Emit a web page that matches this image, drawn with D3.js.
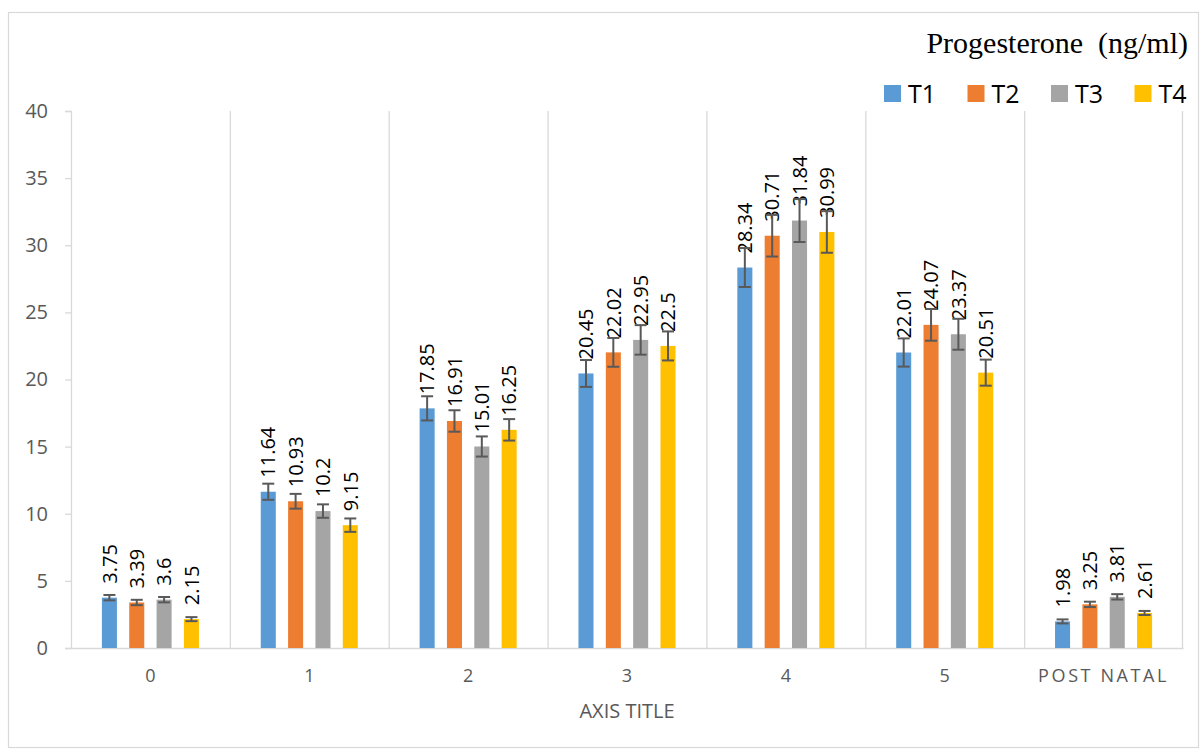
<!DOCTYPE html>
<html>
<head>
<meta charset="utf-8">
<script src="https://cdn.jsdelivr.net/npm/d3@7"></script>
<style>
  body { margin: 0; background: #fff; }
  svg { display: block; }
</style>
</head>
<body>
<div class="canvas"></div>
<script>
const categories = ['0', '1', '2', '3', '4', '5', 'POST NATAL'];
const seriesNames = ['T1', 'T2', 'T3', 'T4'];
const t1 = [3.75, 11.64, 17.85, 20.45, 28.34, 22.01, 1.98];
const t2 = [3.39, 10.93, 16.91, 22.02, 30.71, 24.07, 3.25];
const t3 = [3.6, 10.2, 15.01, 22.95, 31.84, 23.37, 3.81];
const t4 = [2.15, 9.15, 16.25, 22.5, 30.99, 20.51, 2.61];
const t1Err = [0.2, 0.6, 0.9, 1.0, 1.45, 1.05, 0.15];
const t2Err = [0.2, 0.55, 0.8, 1.07, 1.55, 1.18, 0.2];
const t3Err = [0.2, 0.5, 0.75, 1.1, 1.6, 1.15, 0.2];
const t4Err = [0.15, 0.5, 0.8, 1.08, 1.55, 0.97, 0.15];
const yTicks = [0, 5, 10, 15, 20, 25, 30, 35, 40];
const colors = ['#5B9BD5', '#ED7D31', '#A5A5A5', '#FFC000'];

const values = [t1, t2, t3, t4];
const errors = [t1Err, t2Err, t3Err, t4Err];

const dims = { width: 1201, height: 751 };
const plot = { left: 71, right: 1183, top: 111, bottom: 648 };
const sans = '"Open Sans", Lato, sans-serif';

const svg = d3.select('.canvas')
  .append('svg')
  .attr('width', dims.width)
  .attr('height', dims.height);

// chart border
svg.append('rect')
  .attr('x', 8.5).attr('y', 12.5)
  .attr('width', 1190).attr('height', 735)
  .attr('fill', '#fff')
  .attr('stroke', '#d9d9d9')
  .attr('stroke-width', 1.2);

const x = d3.scaleBand()
  .domain(categories)
  .range([plot.left, plot.right]);

const xInner = d3.scaleBand()
  .domain(seriesNames)
  .range([0, x.bandwidth()])
  .paddingInner(0.45)
  .paddingOuter(1.13);

const y = d3.scaleLinear()
  .domain([0, 40])
  .range([plot.bottom, plot.top]);

// vertical gridlines between categories
svg.append('g')
  .selectAll('line')
  .data(categories.slice(1))
  .enter().append('line')
  .attr('x1', d => x(d) + 0.5)
  .attr('x2', d => x(d) + 0.5)
  .attr('y1', plot.top)
  .attr('y2', plot.bottom)
  .attr('stroke', '#d9d9d9')
  .attr('stroke-width', 1.3);

svg.append('line')
  .attr('x1', plot.right - 0.5).attr('x2', plot.right - 0.5)
  .attr('y1', plot.top).attr('y2', plot.bottom)
  .attr('stroke', '#d9d9d9').attr('stroke-width', 1.3);

// y axis
const yAxis = svg.append('g')
  .attr('transform', `translate(${plot.left}, 0)`)
  .call(d3.axisLeft(y).tickValues(yTicks).tickSize(6).tickPadding(17));

yAxis.select('.domain').attr('stroke', '#d9d9d9').attr('stroke-width', 1.3);
yAxis.selectAll('.tick line').attr('stroke', '#d9d9d9').attr('stroke-width', 1.3);
yAxis.selectAll('.tick text')
  .attr('fill', '#595959')
  .style('font-family', sans)
  .style('font-size', '20px');

// x axis
const xAxis = svg.append('g')
  .attr('transform', `translate(0, ${plot.bottom})`)
  .call(d3.axisBottom(x).tickSize(0).tickPadding(21));

xAxis.select('.domain').attr('stroke', '#d9d9d9').attr('stroke-width', 1.3);
xAxis.selectAll('.tick text')
  .attr('fill', '#595959')
  .style('font-family', sans)
  .style('font-size', '18px')
  .style('letter-spacing', d => d === 'POST NATAL' ? '2.6px' : '0px');

svg.append('text')
  .attr('x', (plot.left + plot.right) / 2)
  .attr('y', 718)
  .attr('text-anchor', 'middle')
  .attr('fill', '#595959')
  .style('font-family', sans)
  .style('font-size', '20px')
  .text('AXIS TITLE');

// bars
const rows = [];
values.forEach((vals, s) => {
  vals.forEach((v, i) => {
    rows.push({ cat: categories[i], series: seriesNames[s], s, value: v, err: errors[s][i] });
  });
});

const groups = svg.append('g');

groups.selectAll('.bar')
  .data(rows)
  .enter().append('rect')
  .attr('class', 'bar')
  .attr('x', d => x(d.cat) + xInner(d.series))
  .attr('y', d => y(d.value))
  .attr('width', xInner.bandwidth())
  .attr('height', d => y(0) - y(d.value))
  .attr('fill', d => colors[d.s]);

// data labels
groups.selectAll('.label')
  .data(rows)
  .enter().append('text')
  .attr('class', 'label')
  .attr('transform', d => {
    const cx = x(d.cat) + xInner(d.series) + xInner.bandwidth() / 2;
    return `translate(${cx}, ${y(d.value) - 14}) rotate(-90)`;
  })
  .attr('dy', '0.36em')
  .attr('fill', '#000')
  .style('font-family', sans)
  .style('font-size', '20px')
  .text(d => d.value);

// error bars
const errG = groups.selectAll('.err')
  .data(rows)
  .enter().append('g')
  .attr('class', 'err')
  .attr('transform', d => `translate(${x(d.cat) + xInner(d.series) + xInner.bandwidth() / 2}, 0)`)
  .attr('stroke', '#595959')
  .attr('stroke-width', 2);

errG.append('line')
  .attr('x1', 0).attr('x2', 0)
  .attr('y1', d => y(d.value + d.err))
  .attr('y2', d => y(d.value - d.err));

errG.append('line')
  .attr('x1', -6).attr('x2', 6)
  .attr('y1', d => y(d.value + d.err))
  .attr('y2', d => y(d.value + d.err));

errG.append('line')
  .attr('x1', -6).attr('x2', 6)
  .attr('y1', d => y(d.value - d.err))
  .attr('y2', d => y(d.value - d.err));

// title
svg.append('text')
  .attr('x', 1188)
  .attr('y', 53)
  .attr('text-anchor', 'end')
  .attr('fill', '#000')
  .style('font-family', '"Liberation Serif", "Times New Roman", serif')
  .style('font-size', '30px')
  .attr('xml:space', 'preserve')
  .text('Progesterone  (ng/ml)');

// legend
const legend = svg.append('g')
  .selectAll('g')
  .data(seriesNames)
  .enter().append('g')
  .attr('transform', (d, i) => `translate(${884 + i * 83.5}, 85)`);

legend.append('rect')
  .attr('width', 17)
  .attr('height', 17)
  .attr('fill', (d, i) => colors[i]);

legend.append('text')
  .attr('x', 24)
  .attr('y', 8.5)
  .attr('dy', '0.36em')
  .attr('fill', '#000')
  .style('font-family', sans)
  .style('font-size', '25px')
  .text(d => d);
</script>
</body>
</html>
